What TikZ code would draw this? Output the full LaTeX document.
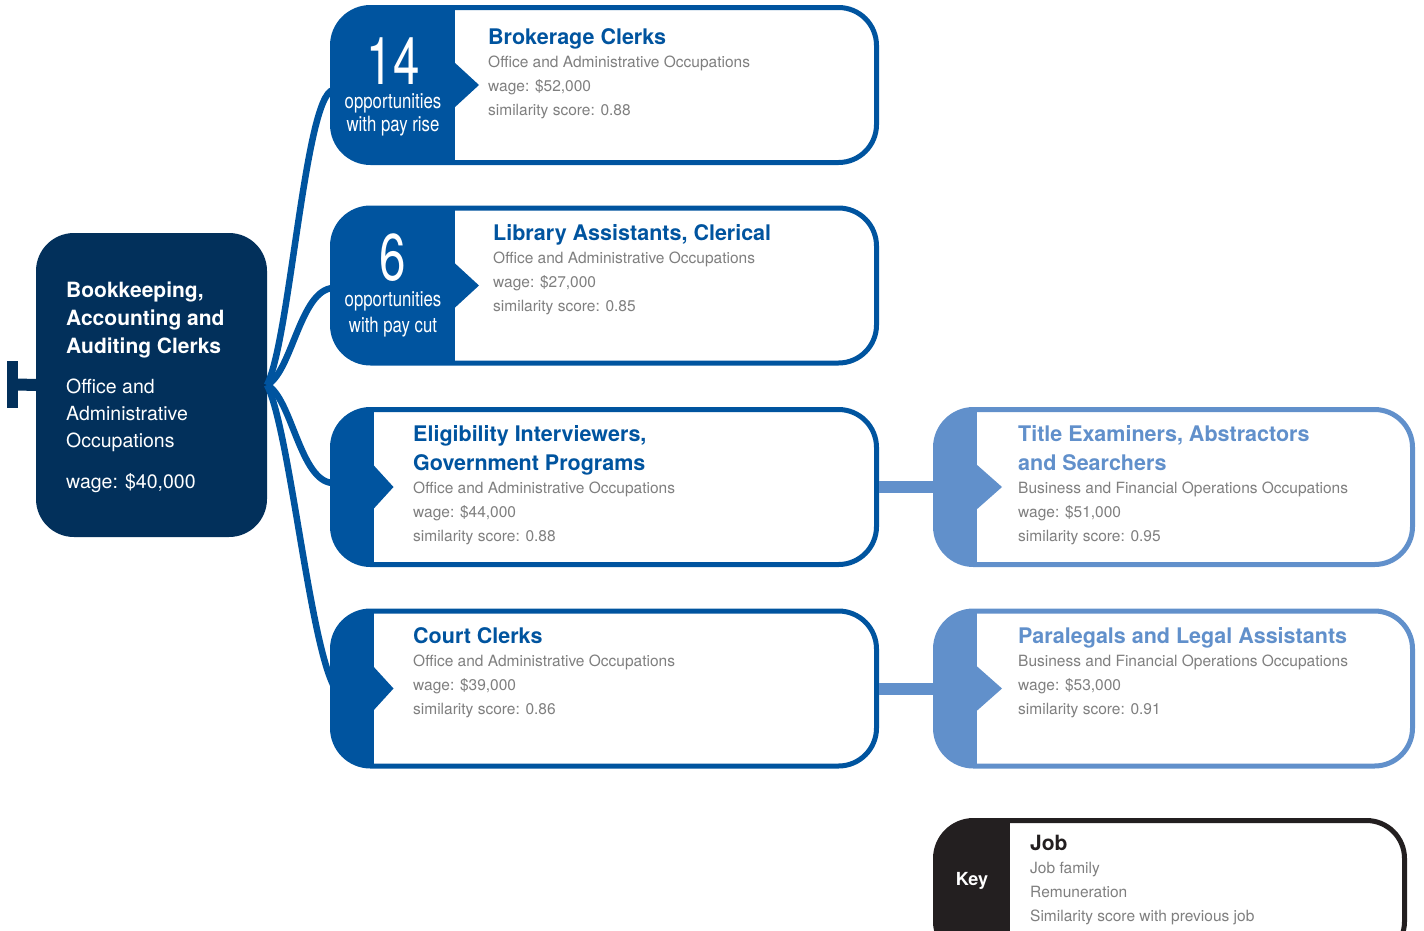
\documentclass[tikz,border=0pt]{standalone}
\usepackage{fontspec}
\setmainfont{TeX Gyre Heros}
\usepackage{graphicx}
\definecolor{navy}{HTML}{02305B}
\definecolor{dblue}{HTML}{00549F}
\definecolor{lblue}{HTML}{6190CB}
\definecolor{keyblack}{HTML}{231F20}
\definecolor{subgray}{HTML}{7F7F7F}
\newcommand\jtitlefont{\fontsize{21.5}{26}\selectfont\bfseries}
\newcommand\jsubfont{\fontsize{15.5}{20}\selectfont}
\newcommand\mtitlefont{\fontsize{21}{26}\selectfont\bfseries}
\newcommand\msubfont{\fontsize{19.5}{24}\selectfont}
\newcommand\pnumfont{\fontsize{66}{70}\selectfont}
\newcommand\poppfont{\fontsize{21}{24}\selectfont}
\newcommand\cond[1]{\scalebox{0.8}[1]{#1}}
\newcommand\condn[1]{\scalebox{0.72}[1]{#1}}
% name, x0, y0, x1, y1 (outer edges), panel width, tip width, colour
\newcommand\jobbox[8]{%
  \node[frame, draw=#8, minimum width={#4-#2-5}, minimum height={#5-#3-5}, anchor=north west,
    path picture={
      \fill[#8, sharp corners] (path picture bounding box.north west) rectangle ([xshift=#6]path picture bounding box.south west);
      \fill[#8, sharp corners] ([xshift=#6-1,yshift=23]path picture bounding box.west) -- ([xshift=#6+#7]path picture bounding box.west) -- ([xshift=#6-1,yshift=-23]path picture bounding box.west) -- cycle;
    }] (#1) at (#2,#3) {};%
}
\begin{document}
\begin{tikzpicture}[x=1pt,y=-1pt,
  frame/.style={rounded corners=38pt, line width=5pt, fill=white, inner sep=0pt},
  mainbox/.style={rounded corners=38pt, fill=navy, inner sep=0pt, outer sep=0pt},
  conn/.style={dblue, line width=6.5pt},
  link/.style={lblue, line width=12pt},
  jt/.style={anchor=base west, inner sep=0pt, font=\jtitlefont},
  js/.style={anchor=base west, inner sep=0pt, font=\jsubfont, text=subgray},
  mt/.style={anchor=base west, inner sep=0pt, font=\mtitlefont, text=white},
  ms/.style={anchor=base west, inner sep=0pt, font=\msubfont, text=white},
  pn/.style={anchor=base, inner sep=0pt, font=\pnumfont, text=white, text depth=0pt},
  po/.style={anchor=base, inner sep=0pt, font=\poppfont, text=white}]
\useasboundingbox (0,0) rectangle (1424,930);
\clip (0,0) rectangle (1424,930);

% main job
\node[mainbox, minimum width=231, minimum height=304, anchor=north west] (main) at (36,233) {};
\node[fill=navy, minimum width=11, minimum height=47, inner sep=0pt, outer sep=0pt, anchor=north west] (prevedge) at (7,361) {};
\draw[navy, line width=12pt] (prevedge.east) -- (main.west);

% connectors
\draw[conn] (main.east) .. controls (290,340) and (305,96) .. (333,90);
\draw[conn] (main.east) .. controls (292,372) and (300,290) .. (333,288);
\draw[conn] (main.east) .. controls (292,398) and (300,482) .. (333,483);
\draw[conn] (main.east) .. controls (290,430) and (310,650) .. (336,690);

% boxes (outer edges)
\jobbox{b1}{330}{5}{879}{165}{122.5}{24}{dblue}
\jobbox{b2}{330}{205.5}{879}{365.5}{122.5}{24}{dblue}
\jobbox{b3}{330}{407}{879}{567}{41}{20}{dblue}
\jobbox{b4}{330}{608.5}{879}{768.5}{41}{20}{dblue}
\jobbox{b5}{933}{407}{1415}{567}{41.5}{25}{lblue}
\jobbox{b6}{933}{608.5}{1415}{768.5}{41.5}{25}{lblue}
\jobbox{key}{933}{818}{1407}{962}{74}{0}{keyblack}

\draw[link] (b3.east) -- (b5.west);
\draw[link] (b4.east) -- (b6.west);

% main text
\node[mt] (m1) at (66,297) {Bookkeeping,};
\node[mt] (m2) at (66,325) {Accounting and};
\node[mt] (m3) at (66,353) {Auditing Clerks};
\node[ms] (m4) at (66,393) {Office and};
\node[ms] (m5) at (66,420) {Administrative};
\node[ms] (m6) at (66,447) {Occupations};
\node[ms] (m7) at (66,488) {wage: \$40,000};

% panels
\node[pn] (n1) at (393,84) {\condn{14}};
\node[po] (o1) at (393,108) {\cond{opportunities}};
\node[po] (w1) at (393,131) {\cond{with pay rise}};
\node[pn] (n2) at (393,280) {\condn{6}};
\node[po] (o2) at (393,306) {\cond{opportunities}};
\node[po] (w2) at (393,332) {\cond{with pay cut}};

% box 1
\node[jt, text=dblue] (t1) at (488,44) {Brokerage Clerks};
\node[js] (f1) at (488,67) {Office and Administrative Occupations};
\node[js] (p1) at (488,91) {wage: \$52,000};
\node[js] (s1) at (488,115) {similarity score: 0.88};
% box 2
\node[jt, text=dblue] (t2) at (493,240) {Library Assistants, Clerical};
\node[js] (f2) at (493,263) {Office and Administrative Occupations};
\node[js] (p2) at (493,287) {wage: \$27,000};
\node[js] (s2) at (493,311) {similarity score: 0.85};
% box 3
\node[jt, text=dblue] (t3) at (413,441) {Eligibility Interviewers,};
\node[jt, text=dblue] (t3b) at (413,470) {Government Programs};
\node[js] (f3) at (413,493) {Office and Administrative Occupations};
\node[js] (p3) at (413,517) {wage: \$44,000};
\node[js] (s3) at (413,541) {similarity score: 0.88};
% box 4
\node[jt, text=dblue] (t4) at (413,643) {Court Clerks};
\node[js] (f4) at (413,666) {Office and Administrative Occupations};
\node[js] (p4) at (413,690) {wage: \$39,000};
\node[js] (s4) at (413,714) {similarity score: 0.86};
% box 5
\node[jt, text=lblue] (t5) at (1018,441) {Title Examiners, Abstractors};
\node[jt, text=lblue] (t5b) at (1018,470) {and Searchers};
\node[js] (f5) at (1018,493) {Business and Financial Operations Occupations};
\node[js] (p5) at (1018,517) {wage: \$51,000};
\node[js] (s5) at (1018,541) {similarity score: 0.95};
% box 6
\node[jt, text=lblue] (t6) at (1018,643) {Paralegals and Legal Assistants};
\node[js] (f6) at (1018,666) {Business and Financial Operations Occupations};
\node[js] (p6) at (1018,690) {wage: \$53,000};
\node[js] (s6) at (1018,714) {similarity score: 0.91};
% key
\node[anchor=base, inner sep=0pt, font=\fontsize{18}{22}\selectfont\bfseries, text=white] (kl) at (972,885) {Key};
\node[jt, text=keyblack, font=\mtitlefont] (kj) at (1030,850) {Job};
\node[js] (kf) at (1030,873) {Job family};
\node[js] (kr) at (1030,897) {Remuneration};
\node[js] (ks) at (1030,921) {Similarity score with previous job};
\end{tikzpicture}
\end{document}
